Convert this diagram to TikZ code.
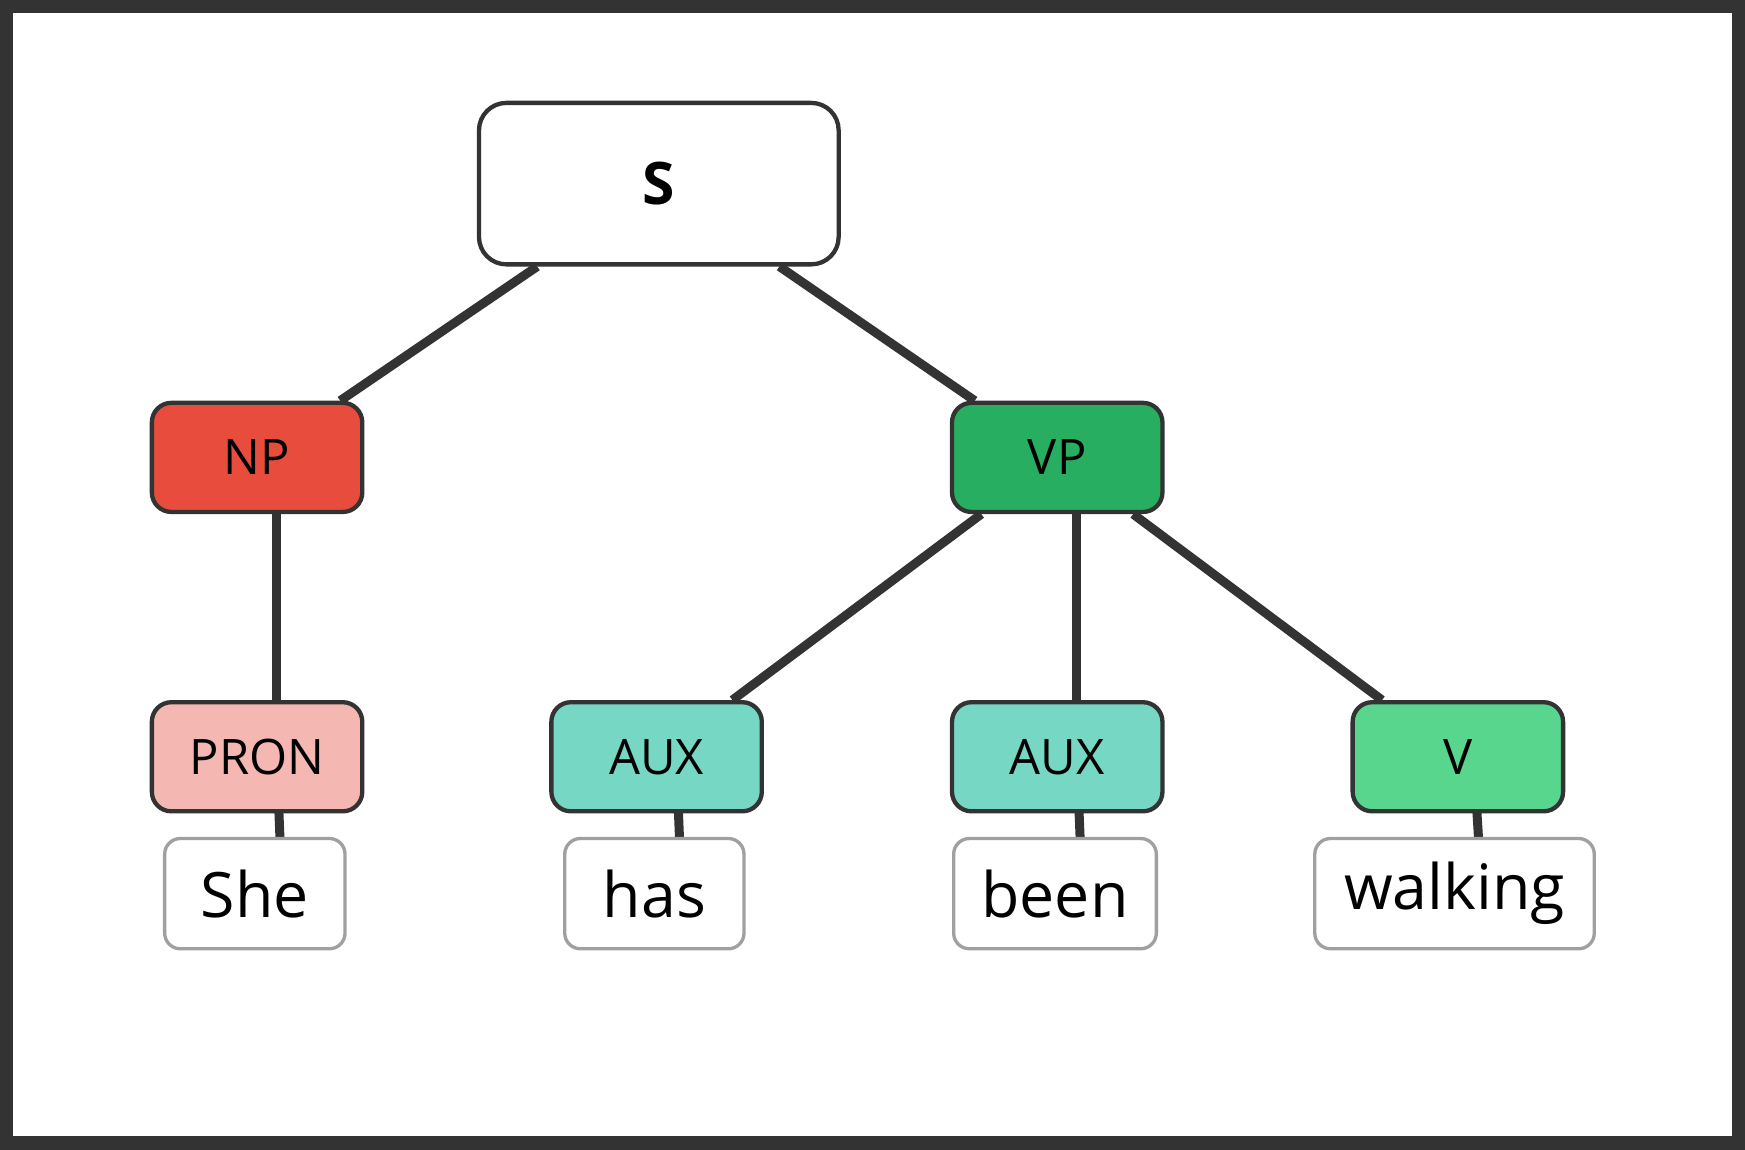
\documentclass[tikz,border=0pt]{standalone}
\usepackage{fontspec}
\setmainfont{Open Sans}
\usetikzlibrary{backgrounds}
\definecolor{edgegray}{HTML}{333333}
\definecolor{npred}{HTML}{E74C3C}
\definecolor{vpgreen}{HTML}{27AE60}
\definecolor{pronpink}{HTML}{F5B7B1}
\definecolor{auxteal}{HTML}{76D7C4}
\definecolor{vgreen}{HTML}{58D68D}
\definecolor{wordgray}{HTML}{A0A0A0}

\begin{document}
\begin{tikzpicture}[x=0.01cm,y=-0.01cm]
\tikzstyle{phrase}=[draw=edgegray,line width=1.1pt,rounded corners=5pt,minimum width=1.89cm,minimum height=0.98cm,font=\fontsize{12.5}{14}\selectfont]
\tikzstyle{word}=[draw=wordgray,line width=0.85pt,fill=white,rounded corners=4pt,minimum height=0.99cm,font=\fontsize{16}{19}\selectfont,inner xsep=4pt]
\tikzstyle{branch}=[draw=edgegray,line width=2.3pt]

% phrase nodes
\node (S) [phrase,fill=white,minimum width=3.23cm,minimum height=1.45cm,rounded corners=7pt,
  font=\fontsize{15}{18}\selectfont\bfseries] at (592,165) {S};
\node (NP) [phrase,fill=npred] at (231,411) {NP};
\node (VP) [phrase,fill=vpgreen] at (950,411) {VP};

\node (PRON) [phrase,fill=pronpink] at (231,680) {PRON};
\node (AUX1) [phrase,fill=auxteal] at (590,680) {AUX};
\node (AUX2) [phrase,fill=auxteal] at (950,680) {AUX};
\node (V) [phrase,fill=vgreen] at (1310,680) {V};

% words
\node (She) [word,minimum width=1.62cm] at (229,803) {She};
\node (has) [word,minimum width=1.61cm] at (588,803) {has};
\node (been) [word,minimum width=1.82cm] at (948,803) {been};
\node (walking) [word,minimum width=2.51cm] at (1307,803) {walking};

\begin{scope}[on background layer]
% frame
\fill[white] (0,0) rectangle (1568,1033);
\draw[edgegray,line width=3.4pt] (6,6) rectangle (1562,1027);
\draw [branch] (S) -- (NP);
\draw [branch] (S) -- (VP);
\draw [branch] ([xshift=5]NP.center) -- ([xshift=5]PRON.center);
\draw [branch] (VP) -- (AUX1);
\draw [branch] ([xshift=5]VP.center) -- ([xshift=5]AUX2.center);
\draw [branch] (VP) -- (V);
\draw [branch] ([xshift=5]PRON.center) -- ([xshift=7]She.center);
\draw [branch] ([xshift=5]AUX1.center) -- ([xshift=7]has.center);
\draw [branch] ([xshift=5]AUX2.center) -- ([xshift=7]been.center);
\draw [branch] ([xshift=4]V.center) -- ([xshift=7]walking.center);
\end{scope}
\end{tikzpicture}
\end{document}
